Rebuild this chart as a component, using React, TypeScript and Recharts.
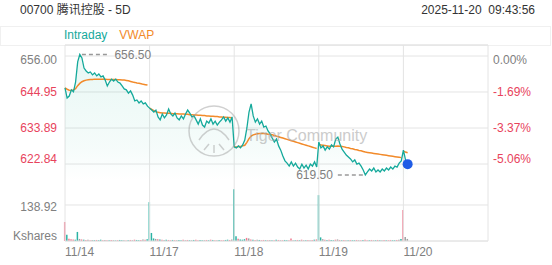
import {
  Area,
  Bar,
  BarChart,
  CartesianGrid,
  Cell,
  ComposedChart,
  Line,
  ReferenceDot,
  ReferenceLine,
  XAxis,
  YAxis,
} from "recharts";

// 5 trading days, 40 slots each
const SLOTS = 40;
const dayLabels = ["11/14", "11/17", "11/18", "11/19", "11/20"];
const dayTicks = [0, 40, 80, 120, 160, 200];

const priceTicks = [622.84, 633.89, 644.95, 656.0];
const pctLabels = ["-5.06%", "-3.37%", "-1.69%", "0.00%"];
const prevClose = 656.0;
const volTicks = [0, 138.92];

const priceD1 = [
  646.2, 643.1, 643.7, 645.6, 645.0, 648.0, 654.2, 656.5, 655.4, 652.3,
  651.4, 650.8, 651.1, 650.2, 650.8, 649.9, 650.5, 649.6, 649.9, 648.6,
  646.8, 648.0, 648.9, 648.3, 648.9, 648.0, 647.7, 646.8, 645.9, 645.6,
  644.6, 645.3, 644.0, 642.2, 642.5, 641.6, 642.2, 641.3, 641.6, 640.6,
];
const priceD2 = [
  640.0, 639.4, 638.8, 639.4, 637.3, 636.4, 638.2, 637.0, 637.9, 639.7,
  638.2, 637.6, 638.5, 637.0, 636.4, 637.6, 636.7, 638.2, 639.4, 638.5,
  637.3, 637.6, 636.4, 635.1, 636.7, 634.8, 634.2, 636.0, 635.4, 636.7,
  635.1, 636.0, 634.8, 635.7, 636.4, 637.3, 636.0, 637.0, 635.7, 637.3,
];
const priceD3 = [
  628.1, 627.8, 628.4, 627.8, 628.7, 630.2, 633.9, 638.8, 641.3, 637.6,
  635.7, 636.7, 635.1, 636.0, 634.2, 634.5, 633.0, 632.1, 630.8, 629.6,
  630.5, 628.4, 627.1, 625.3, 623.8, 623.1, 622.2, 623.5, 622.2, 623.1,
  621.9, 621.3, 622.8, 621.6, 622.5, 621.3, 622.8, 622.2, 623.5, 621.9,
];
const priceD4 = [
  629.6, 627.8, 628.4, 627.1, 628.1, 627.4, 628.7, 628.1, 630.5, 631.1,
  629.0, 627.4, 626.5, 625.6, 625.0, 624.4, 623.5, 624.1, 622.8, 623.1,
  622.2, 621.0, 619.5, 620.4, 621.3, 620.7, 621.6, 620.4, 621.0, 620.4,
  621.3, 620.7, 621.6, 621.0, 621.9, 621.3, 622.2, 621.9, 623.1, 623.8,
];
const priceD5 = [627.1, 624.1, 622.8];

const vwapD1 = [
  646.2, 645.8, 645.5, 645.4, 645.6, 646.0, 646.9, 647.6, 648.1, 648.4,
  648.6, 648.7, 648.8, 648.8, 648.9, 648.9, 648.9, 648.9, 648.9, 648.9,
  648.8, 648.8, 648.8, 648.8, 648.8, 648.7, 648.7, 648.6, 648.6, 648.5,
  648.4, 648.2, 648.0, 647.9, 647.7, 647.6, 647.5, 647.3, 647.2, 647.1,
];
const vwapD2 = [
  640.0, 639.6, 639.2, 638.9, 638.7, 638.6, 638.5, 638.5, 638.4, 638.4,
  638.4, 638.3, 638.3, 638.3, 638.2, 638.2, 638.2, 638.1, 638.1, 638.0,
  638.0, 637.9, 637.9, 637.8, 637.8, 637.7, 637.7, 637.6, 637.6, 637.5,
  637.5, 637.4, 637.4, 637.3, 637.3, 637.2, 637.2, 637.1, 637.1, 637.0,
];
const vwapD3 = [
  628.1, 628.1, 628.2, 628.2, 628.4, 628.6, 629.5, 630.6, 631.4, 631.8,
  632.0, 632.1, 632.2, 632.2, 632.2, 632.1, 632.0, 631.9, 631.8, 631.6,
  631.4, 631.2, 631.0, 630.8, 630.6, 630.4, 630.2, 630.0, 629.8, 629.6,
  629.4, 629.2, 629.0, 628.8, 628.6, 628.4, 628.2, 628.0, 627.8, 627.6,
];
const vwapD4 = [
  628.8, 628.7, 628.6, 628.5, 628.4, 628.3, 628.3, 628.3, 628.3, 628.4,
  628.3, 628.2, 628.1, 627.9, 627.8, 627.6, 627.5, 627.3, 627.2, 627.0,
  626.9, 626.7, 626.5, 626.4, 626.3, 626.2, 626.1, 626.0, 625.9, 625.8,
  625.7, 625.6, 625.5, 625.4, 625.3, 625.2, 625.1, 625.0, 624.9, 624.8,
];
const vwapD5 = [626.8, 626.5, 626.3];

// volume in Kshares
const volD1 = [
  73, 24, 9, 7, 6, 5, 35, 8, 6, 5, 4, 5, 3, 4, 3, 4, 3, 5, 3, 4,
  3, 3, 4, 3, 2, 3, 4, 3, 3, 2, 3, 4, 3, 5, 4, 3, 4, 6, 5, 7,
];
const volD2 = [
  150, 31, 10, 8, 7, 6, 5, 4, 5, 4, 3, 4, 3, 3, 4, 3, 5, 3, 4, 3,
  3, 4, 5, 3, 4, 3, 3, 4, 3, 5, 4, 3, 3, 4, 3, 3, 4, 5, 4, 6,
];
const volD3 = [
  200, 18, 9, 6, 5, 7, 12, 10, 6, 5, 4, 5, 4, 3, 4, 3, 3, 4, 3, 3,
  5, 4, 3, 3, 4, 3, 3, 10, 3, 3, 4, 3, 5, 3, 3, 4, 3, 4, 5, 6,
];
const volD4 = [
  177, 14, 7, 5, 4, 5, 4, 3, 5, 6, 4, 3, 4, 3, 3, 4, 3, 3, 4, 3,
  3, 4, 5, 3, 3, 4, 3, 3, 4, 3, 3, 4, 3, 3, 4, 3, 3, 4, 5, 8,
];
const volD5 = [120, 15, 8];

// u = up, d = down, n = flat
const dirD1 = "duddduundudndnuduudndudnuduundudnduudndu";
const dirD2 = "uuundudnuddudnuudndunudduundududnudduudn";
const dirD3 = "uuduuudndudnuddudnududnduuddnududnudndud";
const dirD4 = "uunduduudndudnuduudnduddudnudundudduudnu";
const dirD5 = "dnn";

const priceDays = [priceD1, priceD2, priceD3, priceD4, priceD5];
const vwapDays = [vwapD1, vwapD2, vwapD3, vwapD4, vwapD5];
const volDays = [volD1, volD2, volD3, volD4, volD5];
const dirDays = [dirD1, dirD2, dirD3, dirD4, dirD5];

const TEAL = "#14a99b";
const ORANGE = "#f28a2a";
const RED = "#e8435c";
const GRAY = "#808080";
const GRID = "#e4e4e4";
const FONT = "'Liberation Sans', Arial, 'Noto Sans CJK SC', sans-serif";

const rows: any[] = [];
for (let d = 0; d < 5; d++) {
  for (let i = 0; i < SLOTS; i++) {
    rows.push({
      idx: d * SLOTS + i,
      price: priceDays[d][i] ?? null,
      vwapA: d % 2 === 0 ? vwapDays[d][i] ?? null : null,
      vwapB: d % 2 === 1 ? vwapDays[d][i] ?? null : null,
      vol: volDays[d][i] ?? null,
      dir: dirDays[d][i] ?? "n",
    });
  }
}

const priced = rows.filter((r) => r.price != null);
const hi = priced.reduce((a, b) => (b.price > a.price ? b : a));
const lo = priced.reduce((a, b) => (b.price < a.price ? b : a));
const last = priced[priced.length - 1];

const W = 552;
const H = 265;
const TOP = 45;
const LEFT_W = 65;
const RIGHT_W = 64;
const X_H = 24;
const priceDomain = [599.2, 659.38];
const volDomain = [0, 756.34];

function edgeShift(v: number, list: number[]) {
  if (v === list[list.length - 1]) return 4;
  if (v === list[0]) return -5;
  return 0;
}

const PriceTick = (props: any) => {
  const { x, y, payload } = props;
  const v = payload.value;
  return (
    <text x={x} y={y + edgeShift(v, priceTicks)} textAnchor="end" dominantBaseline="central"
      fontSize={12} fontFamily={FONT} fill={v >= prevClose ? GRAY : RED}>
      {v.toFixed(2)}
    </text>
  );
};

const PctTick = (props: any) => {
  const { x, y, payload } = props;
  const v = payload.value;
  const k = priceTicks.indexOf(v);
  return (
    <text x={x} y={y + edgeShift(v, priceTicks)} textAnchor="start" dominantBaseline="central"
      fontSize={12} fontFamily={FONT} fill={v >= prevClose ? GRAY : RED}>
      {pctLabels[k]}
    </text>
  );
};

const VolTick = (props: any) => {
  const { x, y, payload } = props;
  const v = payload.value;
  return (
    <text x={x} y={y + (v === 0 ? -5 : 2)} textAnchor="end" dominantBaseline="central"
      fontSize={12} fontFamily={FONT} fill={GRAY}>
      {v === 0 ? "Kshares" : v.toFixed(2)}
    </text>
  );
};

const DayTick = (props: any) => {
  const { x, y, payload } = props;
  const k = dayTicks.indexOf(payload.value);
  return (
    <text x={x} y={y} textAnchor="start" dominantBaseline="central"
      fontSize={12} fontFamily={FONT} fill={GRAY}>
      {dayLabels[k] ?? ""}
    </text>
  );
};

const barColor = (dir: string) =>
  dir === "u" ? "#2bb3a4" : dir === "d" ? "#f07a90" : "#a0a0a0";

export default function App() {
  return (
    <div style={{ position: "absolute", left: 0, top: 0, width: W, height: H, background: "#fff", fontFamily: FONT }}>
      <div style={{ position: "absolute", left: 20, top: 2, fontSize: 12, color: "#333", lineHeight: "16px" }}>
        00700 腾讯控股 - 5D
      </div>
      <div style={{ position: "absolute", right: 17, top: 2, fontSize: 12, color: "#333", lineHeight: "16px", whiteSpace: "pre" }}>
        2025-11-20  09:43:56
      </div>
      <div style={{ position: "absolute", left: 0, top: 26, width: 549, height: 18, border: "1px solid #f0f0f0" }} />
      <div style={{ position: "absolute", left: 64, top: 27, fontSize: 12, lineHeight: "16px", whiteSpace: "pre" }}>
        <span style={{ color: TEAL }}>Intraday</span>
        <span style={{ color: ORANGE, marginLeft: 12 }}>VWAP</span>
      </div>

      <div style={{ position: "absolute", left: 0, top: 0 }}>
        <BarChart width={W} height={H} data={rows}
          margin={{ top: TOP, right: RIGHT_W, bottom: X_H, left: 0 }}>
          <CartesianGrid stroke={GRID} vertical={false} />
          <XAxis dataKey="idx" type="number" domain={[0, 200]} hide />
          <YAxis domain={volDomain} ticks={volTicks} width={LEFT_W} axisLine={false}
            tickLine={false} tickSize={0} tickMargin={8} tick={<VolTick />} />
          <Bar dataKey="vol" barSize={1.5} isAnimationActive={false}>
            {rows.map((r) => (
              <Cell key={r.idx} fill={barColor(r.dir)} />
            ))}
          </Bar>
        </BarChart>
      </div>

      <div style={{ position: "absolute", left: 0, top: 0 }}>
        <ComposedChart width={W} height={H} data={rows}
          margin={{ top: TOP, right: 0, bottom: 0, left: 0 }}>
          <defs>
            <linearGradient id="fillPrice" x1="0" y1="0" x2="0" y2="1">
              <stop offset="0%" stopColor="#1ab394" stopOpacity={0.17} />
              <stop offset="50%" stopColor="#1ab394" stopOpacity={0.07} />
              <stop offset="68%" stopColor="#1ab394" stopOpacity={0} />
            </linearGradient>
          </defs>
          <CartesianGrid stroke={GRID} yAxisId="price" />
          <XAxis dataKey="idx" type="number" domain={[0, 200]} ticks={dayTicks} height={X_H}
            axisLine={false} tickLine={false} tickSize={0} tickMargin={11} tick={<DayTick />} />
          <YAxis yAxisId="price" orientation="left" domain={priceDomain} ticks={priceTicks}
            width={LEFT_W} axisLine={false} tickLine={false} tickSize={0} tickMargin={8}
            tick={<PriceTick />} allowDataOverflow />
          <YAxis yAxisId="pct" orientation="right" domain={priceDomain} ticks={priceTicks}
            width={RIGHT_W} axisLine={false} tickLine={false} tickSize={0} tickMargin={5}
            tick={<PctTick />} allowDataOverflow />
          <Area yAxisId="price" type="linear" dataKey="price" stroke="none"
            fill="url(#fillPrice)" isAnimationActive={false} />
          <Line yAxisId="price" type="linear" dataKey="vwapA" stroke={ORANGE} strokeWidth={1.5}
            dot={false} isAnimationActive={false} />
          <Line yAxisId="price" type="linear" dataKey="vwapB" stroke={ORANGE} strokeWidth={1.5}
            dot={false} isAnimationActive={false} />
          <Line yAxisId="price" type="linear" dataKey="price" stroke={TEAL} strokeWidth={1.3}
            dot={false} isAnimationActive={false} />
          <ReferenceLine yAxisId="price"
            segment={[{ x: hi.idx + 1, y: hi.price }, { x: hi.idx + 14, y: hi.price }]}
            stroke="#999" strokeWidth={1.5} strokeDasharray="4 3"
            label={{ value: hi.price.toFixed(2), position: "right", fill: GRAY, fontSize: 12, fontFamily: FONT, offset: 5 }} />
          <ReferenceLine yAxisId="price"
            segment={[{ x: lo.idx - 13, y: lo.price }, { x: lo.idx - 1, y: lo.price }]}
            stroke="#999" strokeWidth={1.5} strokeDasharray="4 3"
            label={{ value: lo.price.toFixed(2), position: "left", fill: GRAY, fontSize: 12, fontFamily: FONT, offset: 5 }} />
          <ReferenceDot yAxisId="price" x={last.idx} y={last.price} r={5}
            fill="#1f5ce6" stroke="none" />
        </ComposedChart>
      </div>

      <svg width={W} height={H} style={{ position: "absolute", left: 0, top: 0, pointerEvents: "none" }}>
        <g opacity={0.45} stroke="#999" fill="none" strokeWidth={1.5}>
          <circle cx={214} cy={131} r={25} />
          <path d="M199 140 q15 -22 30 0" />
          <path d="M204 150 l5 -6 M214 153 l0 -8 M224 150 l-5 -6" />
        </g>
        <text x={246} y={135} fontSize={16} fontFamily={FONT} fill="#aaa" opacity={0.6}
          dominantBaseline="central">
          Tiger Community
        </text>
      </svg>
    </div>
  );
}
